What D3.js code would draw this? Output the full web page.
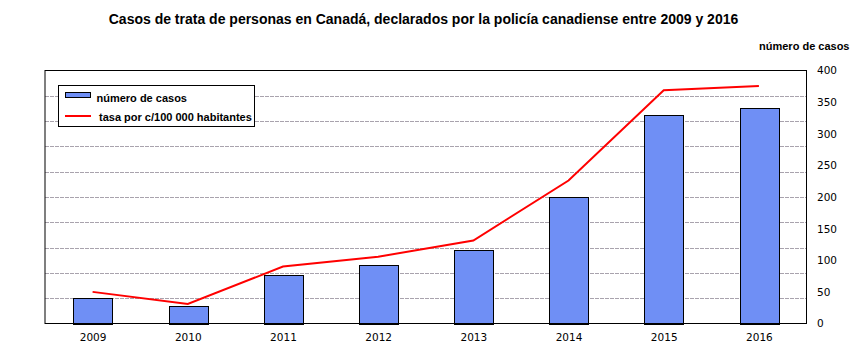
<!DOCTYPE html>
<html><head><meta charset="utf-8">
<script src="https://cdn.jsdelivr.net/npm/d3@7"></script>
<style>body{margin:0;background:#fff}svg{display:block}</style>
</head><body>
<script>
const years = ["2009","2010","2011","2012","2013","2014","2015","2016"];
const cases = [41, 27, 76, 92, 116, 200, 330, 341];
const rates = [0.125, 0.077, 0.225, 0.264, 0.328, 0.565, 0.922, 0.939];
const rightTicks = [0,50,100,150,200,250,300,350,400];
const gridTicks = [0.1,0.2,0.3,0.4,0.5,0.6,0.7,0.8,0.9];
const title = "Casos de trata de personas en Canadá, declarados por la policía canadiense entre 2009 y 2016";
const axisTitle = "número de casos";
const legendLabels = ["número de casos", "tasa por c/100 000 habitantes"];

const W = 855, H = 347;
const m = {l:45, r:806.5, t:70.5, b:323.5};
const svg = d3.select("body").append("svg").attr("width",W).attr("height",H);

const x = d3.scaleBand().domain(years).range([m.l, m.r]);
const yCases = d3.scaleLinear().domain([0,400]).range([m.b, m.t]);
const yRate = d3.scaleLinear().domain([0,1]).range([m.b, m.t]);

// gridlines (hidden rate axis)
svg.append("g").selectAll("line").data(gridTicks).join("line")
  .attr("x1", m.l).attr("x2", m.r)
  .attr("y1", d => Math.round(yRate(d))+0.5).attr("y2", d => Math.round(yRate(d))+0.5)
  .attr("stroke", "#a9a3ad").attr("stroke-width", 1).attr("stroke-dasharray","4,1");

// bars
const bw = x.bandwidth()*0.405;
svg.append("g").selectAll("rect").data(years).join("rect")
  .attr("x", (d,i) => Math.round(x(d) + x.bandwidth()/2 - bw/2)+0.5)
  .attr("y", (d,i) => Math.round(yCases(cases[i]))+0.5)
  .attr("width", Math.round(bw))
  .attr("height", (d,i) => Math.round(yCases(0)) - Math.round(yCases(cases[i])))
  .attr("fill", "#6f8ff5").attr("stroke", "#000").attr("stroke-width", 1);

// line
const line = d3.line().x((d,i) => x(years[i]) + x.bandwidth()/2).y(d => yRate(d));
svg.append("path").datum(rates).attr("d", line)
  .attr("fill","none").attr("stroke","#ff0000").attr("stroke-width",2);

// frame
svg.append("rect").attr("x", m.l).attr("y", m.t).attr("width", m.r-m.l).attr("height", m.b-m.t)
  .attr("fill","none").attr("stroke","#000").attr("stroke-width",1);

// right axis labels
const rAxis = d3.axisRight(yCases).tickValues(rightTicks).tickSize(0).tickPadding(0).tickFormat(d3.format("d"));
const gR = svg.append("g").attr("transform", `translate(817,0)`).call(rAxis);
gR.select(".domain").remove();
gR.selectAll("text").attr("font-family","DejaVu Sans").attr("font-size","10.5px").attr("fill","#000").attr("x",0);

// bottom axis labels
const bAxis = d3.axisBottom(x).tickSize(0).tickPadding(0);
const gB = svg.append("g").attr("transform", `translate(0.5,${m.b})`).call(bAxis);
gB.select(".domain").remove();
gB.selectAll("text").attr("font-family","DejaVu Sans").attr("font-size","10.5px").attr("fill","#000").attr("dy",null).attr("y",17.3);

// title
svg.append("text").attr("x", 423.5).attr("y", 24).attr("text-anchor","middle")
  .attr("font-family","Liberation Sans, Arial").attr("font-weight","bold").attr("font-size","14px").text(title);
svg.append("text").attr("x", 849.5).attr("y", 49.5).attr("text-anchor","end")
  .attr("font-family","Liberation Sans, Arial").attr("font-weight","bold").attr("font-size","11px").text(axisTitle);

// legend
const lg = svg.append("g");
lg.append("rect").attr("x",58.5).attr("y",85.5).attr("width",196).attr("height",41)
  .attr("fill","#fff").attr("stroke","#000").attr("stroke-width",1);
lg.append("rect").attr("x",65.5).attr("y",92.5).attr("width",25).attr("height",5)
  .attr("fill","#6f8ff5").attr("stroke","#000").attr("stroke-width",1);
lg.append("line").attr("x1",65).attr("x2",91).attr("y1",116).attr("y2",116)
  .attr("stroke","#ff0000").attr("stroke-width",2);
lg.append("text").attr("x",96.5).attr("y",102).attr("font-family","Liberation Sans, Arial")
  .attr("font-weight","bold").attr("font-size","11px").text(legendLabels[0]);
lg.append("text").attr("x",99).attr("y",120.5).attr("font-family","Liberation Sans, Arial")
  .attr("font-weight","bold").attr("font-size","11px").text(legendLabels[1]);
</script>
</body></html>
